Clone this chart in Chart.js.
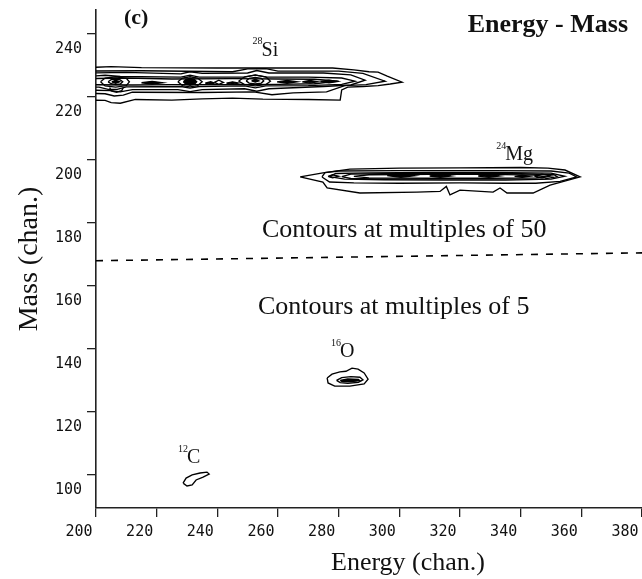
<!DOCTYPE html>
<html><head><meta charset="utf-8">
<script src="https://cdn.jsdelivr.net/npm/chart.js@4.4.1/dist/chart.umd.min.js"></script>
<style>html,body{margin:0;padding:0;background:#fff;}#wrap{width:642px;height:579px;}</style>
</head><body><div id="wrap"><canvas id="c" width="642" height="579"></canvas></div>
<script>
// ---- axis ticks ----
const xTicks = [200, 220, 240, 260, 280, 300, 320, 340, 360, 380];
const yTicks = [100, 120, 140, 160, 180, 200, 220, 240];

// ---- contour lines: [energy, mass] ----
const siContours = [
  [[196,229.3],[205,229.6],[215,229.3],[240,229.2],[270,229.2],[278,229.2],[285,228.6],[290,228.0],[293,227.9],[296,226.6],[300.9,224.7],[297,224.1],[293,223.6],[288,223.3],[283,223.1],[281,222.2],[280.5,219.0],[270,219.2],[255,219.3],[245,219.6],[235,219.4],[225,219.0],[213,219.2],[208,218.0],[205,218.2],[203,218.9],[196,219.0]],
  [[196,228.2],[215,228.3],[245,228.0],[250,228.9],[256,229.0],[260,228.2],[280,228.2],[288,227.5],[295.3,225.0],[289,223.9],[282,223.6],[276,221.6],[265,221.3],[258,220.7],[252,221.6],[235,221.4],[212,221.5],[209,220.6],[206,220.3],[203,221.0],[196,221.2]],
  [[196,227.6],[210,227.8],[228,227.3],[231,228.0],[235,227.5],[250,227.6],[253,228.4],[257,227.6],[275,227.6],[284,227.0],[288.7,225.3],[284,223.8],[275,223.3],[257,222.6],[253,221.8],[249,222.6],[235,222.3],[231,221.7],[227,222.3],[212,222.3],[208,221.6],[205,222.0],[196,222.2]],
  [[196,226.4],[203,226.9],[208,226.5],[228,226.3],[231,226.9],[234,226.3],[249,226.3],[252.5,227.0],[256,226.3],[270,226.3],[281,226.0],[285.4,225.0],[281,224.0],[270,223.6],[256,223.5],[252.5,222.9],[249,223.5],[234,223.3],[231,222.8],[228,223.3],[210,223.2],[207,222.4],[204,222.4],[201,223.1],[196,223.2]],
  [[196,225.8],[210,226.0],[225,225.7],[245,225.8],[260,225.7],[272,225.6],[280,225.0],[272,224.2],[260,224.0],[245,223.9],[225,223.9],[212,223.8],[196,223.9]],
  [[201.5,224.8],[203,226.0],[206.5,226.4],[210,225.9],[211,224.8],[210,223.6],[206.5,223.1],[203,223.5],[201.5,224.8]],
  [[204,224.8],[205,225.5],[206.5,225.7],[208,225.4],[208.8,224.8],[208,224.1],[206.5,223.9],[205,224.2],[204,224.8]],
  [[204.5,223.0],[205,221.9],[206.8,221.5],[208.5,222.0],[209,223.0]],
  [[227,224.8],[228.5,226.0],[231,226.4],[233.5,226.0],[235,224.8],[233.5,223.6],[231,223.2],[228.5,223.6],[227,224.8]],
  [[247,225.0],[249,226.4],[252.5,226.9],[256,226.4],[257.5,225.0],[256,223.9],[252.5,223.5],[249,223.9],[247,225.0]],
  [[249.5,225.1],[250.5,225.9],[252.5,226.2],[254.5,225.9],[255.3,225.1],[254.5,224.4],[252.5,224.1],[250.5,224.4],[249.5,225.1]],
  [[239,224.6],[240.5,225.3],[242,224.6],[240.5,224.0],[239,224.6]]
];
const siCores = [
  [[228.8,224.8],[229.7,225.6],[231,225.9],[232.4,225.6],[233.2,224.8],[232.4,224.0],[231,223.7],[229.7,224.0],[228.8,224.8]],
  [[205.2,224.8],[206.5,225.3],[207.8,224.8],[206.5,224.3],[205.2,224.8]],
  [[251.3,225.1],[252.5,225.6],[253.7,225.1],[252.5,224.7],[251.3,225.1]],
  [[215,224.5],[218.5,224.95],[222,224.5],[218.5,224.05],[215,224.5]],
  [[236,224.4],[237.8,224.8],[239,224.4],[237.8,224.0],[236,224.4]],
  [[243,224.4],[245,224.8],[247,224.4],[245,224.0],[243,224.4]],
  [[259.7,224.8],[263,225.25],[266.3,224.8],[263,224.35],[259.7,224.8]],
  [[268,224.8],[270.5,225.2],[273,224.8],[270.5,224.4],[268,224.8]],
  [[274,224.9],[276.8,225.3],[279.5,224.9],[276.8,224.5],[274,224.9]]
];
const mgContours = [
  [[267.3,194.6],[274.8,195.9],[283.7,197.1],[300,197.4],[320,197.5],[340,197.6],[349,197.4],[354.6,196.8],[359.6,194.6],[349.7,192.0],[344.1,189.5],[335.5,189.5],[333.2,191.1],[330.9,189.8],[320,190.4],[316.7,188.9],[315.5,191.6],[313.4,190.0],[305.8,189.8],[287,189.5],[276.2,191.1],[274.8,193.0],[267.3,194.6]],
  [[274.5,194.6],[275.5,196.0],[280,196.5],[300,196.6],[330,196.6],[350,196.5],[356,195.8],[358.5,194.6],[353,193.2],[345,192.6],[335,192.6],[320,192.7],[300,192.6],[285,192.7],[277,193.0],[274.5,194.6]],
  [[277,194.7],[279,195.7],[290,195.9],[310,196.0],[330,196.0],[350,195.8],[354.5,194.8],[350,193.9],[335,193.6],[315,193.6],[295,193.7],[282,193.9],[277,194.7]],
  [[281,194.7],[284,195.5],[300,195.7],[320,195.7],[340,195.6],[351,195.3],[352,194.7],[348,194.0],[330,193.9],[310,193.9],[292,194.0],[284,194.1],[281,194.7]],
  [[285,194.8],[290,195.3],[310,195.4],[330,195.4],[345,195.2],[348,194.7],[345,194.3],[330,194.2],[310,194.2],[290,194.3],[285,194.8]],
  [[276.5,194.8],[278,195.3],[280,194.8],[278,194.3],[276.5,194.8]],
  [[344.5,194.9],[347,195.5],[350,194.9],[347,194.3],[344.5,194.9]]
];
const mgCores = [
  [[296,195.0],[300.5,195.5],[305,195.0],[300.5,194.5],[296,195.0]],
  [[310,194.9],[313.5,195.3],[317,194.9],[313.5,194.5],[310,194.9]],
  [[326,194.9],[329.5,195.3],[333,194.9],[329.5,194.5],[326,194.9]],
  [[338,194.8],[340.5,195.15],[343,194.8],[340.5,194.45],[338,194.8]]
];
const oContours = [
  [[276.2,130.8],[277.8,132.0],[280.4,132.7],[282.4,132.9],[284.4,133.9],[286.4,133.6],[288.4,132.4],[289.7,130.4],[288.4,128.9],[283.7,128.2],[278.7,128.2],[276.5,129.2],[276.2,130.8]],
  [[279.3,130.0],[281,130.9],[284,131.2],[287,131.0],[288,130.2],[286.5,129.4],[283,129.1],[280.5,129.3],[279.3,130.0]]
];
const oCores = [
  [[280.5,130.0],[283,130.45],[286.5,130.3],[287,129.9],[284,129.6],[281,129.7],[280.5,130.0]]
];
const cContours = [
  [[228.7,97.4],[229.7,99.0],[231.7,100.0],[234.3,100.6],[236.6,100.9],[237.3,100.3],[235.3,99.3],[233.0,98.4],[231.7,96.8],[230.0,96.5],[228.7,97.4]]
];
// divider between contour-level regions
const dividerLine = [[200,168.0],[380,170.5]];

// ---- text ----
const isotopeLabels = [
  {mass:'28', sym:'Si', e:254.6, m:234.8},
  {mass:'24', sym:'Mg', e:334.9, m:201.5},
  {mass:'16', sym:'O',  e:280.4, m:139.0},
  {mass:'12', sym:'C',  e:230.0, m:105.3}
];
const noteTexts = [
  {text:'Contours at multiples of 50', e:254.7, m:177.6},
  {text:'Contours at multiples of 5',  e:253.4, m:153.2}
];

const lineStyle = {showLine:true, pointRadius:0, borderColor:'#000', borderWidth:1.35, fill:false, tension:0};
const datasets = [];
const addSet = (arr, filled) => arr.forEach(c => datasets.push(Object.assign({}, lineStyle, {
  data: c.map(p => ({x:p[0], y:p[1]})),
  fill: filled ? 'shape' : false,
  backgroundColor: filled ? '#000' : 'transparent'
})));
addSet(siContours, false); addSet(siCores, true);
addSet(mgContours, false); addSet(mgCores, true);
addSet(oContours, false); addSet(oCores, true);
addSet(cContours, false);
datasets.push(Object.assign({}, lineStyle, {data: dividerLine.map(p=>({x:p[0],y:p[1]})), borderWidth:1.6, borderDash:[7,8]}));

const textPlugin = {
  id: 'texts',
  afterDraw(chart) {
    const {ctx, chartArea, scales:{x, y}} = chart;
    ctx.save();
    ctx.fillStyle = '#111';
    ctx.textBaseline = 'middle';
    isotopeLabels.forEach(l => {
      const px = x.getPixelForValue(l.e), py = y.getPixelForValue(l.m);
      ctx.textAlign = 'left';
      ctx.font = '20px "Liberation Serif"';
      ctx.fillText(l.sym, px, py);
      ctx.textAlign = 'right';
      ctx.font = '10px "Liberation Serif"';
      ctx.fillText(l.mass, px + 1, py - 9);
    });
    ctx.textAlign = 'left';
    ctx.font = '26px "Liberation Serif"';
    noteTexts.forEach(n => ctx.fillText(n.text, x.getPixelForValue(n.e), y.getPixelForValue(n.m)));
    ctx.font = 'bold 22px "Liberation Serif"';
    ctx.fillText('(c)', chartArea.left + 28, chartArea.top + 8);
    ctx.font = 'bold 26px "Liberation Serif"';
    ctx.textAlign = 'right';
    ctx.fillText('Energy - Mass', chartArea.right - 14, chartArea.top + 15);
    ctx.textAlign = 'center';
    ctx.font = '26px "Liberation Serif"';
    ctx.fillText('Energy (chan.)', (chartArea.left + chartArea.right) / 2 + 39, chartArea.bottom + 55);
    ctx.restore();
  }
};

new Chart(document.getElementById('c'), {
  type: 'scatter',
  data: {datasets},
  options: {
    responsive: false,
    animation: false,
    devicePixelRatio: 1,
    layout: {padding: {top: 10, left: 0, right: 0, bottom: 0}},
    plugins: {legend: {display: false}, tooltip: {enabled: false}},
    scales: {
      x: {
        type: 'linear', min: 200, max: 380,
        afterBuildTicks: s => { s.ticks = xTicks.map(v => ({value: v})); },
        afterFit: s => { s.height = 71; s.paddingLeft = 0; s.paddingRight = 0; },
        grid: {drawOnChartArea: false, drawTicks: true, tickLength: 9, color: '#222', lineWidth: 1.3},
        border: {display: true, color: '#222', width: 1.6},
        ticks: {font: {family: 'DejaVu Sans Mono', size: 15}, color: '#111', labelOffset: -17, padding: 6, maxRotation: 0, autoSkip: false}
      },
      y: {
        type: 'linear', min: 89.5, max: 247.6,
        afterBuildTicks: s => { s.ticks = yTicks.map(v => ({value: v})); },
        afterFit: s => { s.width = 96; s.paddingTop = 0; s.paddingBottom = 0; },
        grid: {drawOnChartArea: false, drawTicks: true, tickLength: 9, color: '#222', lineWidth: 1.3},
        border: {display: true, color: '#222', width: 1.6},
        ticks: {font: {family: 'DejaVu Sans Mono', size: 15}, color: '#111', labelOffset: 15, padding: 5, autoSkip: false},
        title: {display: true, text: 'Mass (chan.)', font: {family: 'Liberation Serif', size: 28, lineHeight: 1}, color: '#111', padding: {top: 16, bottom: 0}}
      }
    }
  },
  plugins: [textPlugin]
});
</script></body></html>
